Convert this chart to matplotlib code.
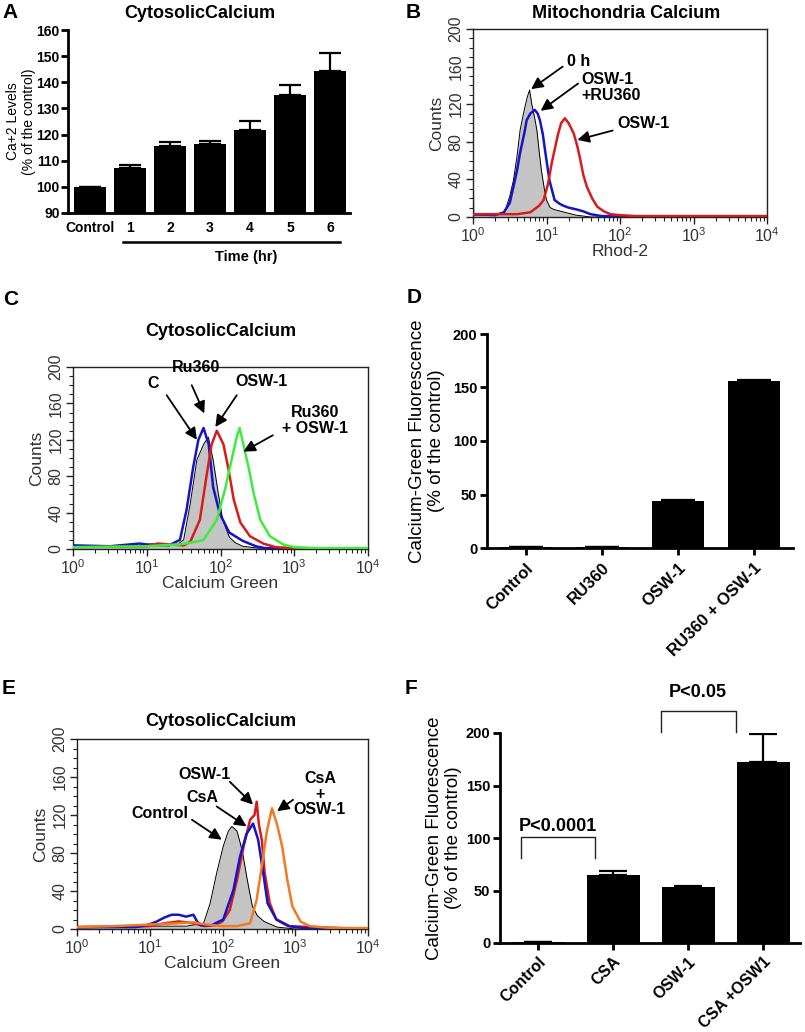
import numpy as np
import matplotlib
matplotlib.use('Agg')
import matplotlib.pyplot as plt
from matplotlib.ticker import LogLocator, MultipleLocator, NullFormatter

plt.rcParams['font.family'] = ['Liberation Sans', 'DejaVu Sans']

# ---- data ----
# A: cytosolic calcium over time
a_labels = ['Control', '1', '2', '3', '4', '5', '6']
a_vals = [100, 107.2, 115.7, 116.3, 121.8, 135.2, 144.5]
a_err = [0, 1.3, 1.4, 1.1, 3.5, 3.8, 6.6]

# B: mitochondria calcium (Rhod-2), log10 position / counts
b_gray_pos = [0, 0.005, 0.01, 0.3, 0.43, 0.5, 0.55, 0.6, 0.64, 0.7, 0.74, 0.77, 0.8, 0.84, 0.87, 0.9, 0.93, 0.97, 1.0, 1.05, 1.1, 1.2, 1.3, 1.4, 1.6, 4.0]
b_gray_cnt = [50, 50, 2, 2, 5, 22, 39, 65, 92, 115, 128, 135, 120, 105, 92, 70, 50, 30, 18, 10, 8, 6, 4, 2, 0, 0]
b_blue_pos = [0, 0.3, 0.42, 0.5, 0.55, 0.6, 0.64, 0.7, 0.73, 0.78, 0.84, 0.88, 0.91, 0.95, 0.98, 1.04, 1.11, 1.18, 1.23, 1.3, 1.41, 1.5, 1.6, 1.75, 4.0]
b_blue_cnt = [3, 2, 5, 15, 32, 50, 68, 90, 103, 110, 114, 110, 103, 88, 71, 39, 18, 14, 12, 10, 8, 6, 3, 1, 0]
b_red_pos = [0, 0.6, 0.78, 0.9, 0.96, 1.02, 1.07, 1.12, 1.16, 1.2, 1.25, 1.3, 1.37, 1.42, 1.46, 1.5, 1.55, 1.62, 1.69, 1.78, 1.87, 2.0, 2.2, 4.0]
b_red_cnt = [3, 3, 5, 12, 18, 35, 57, 75, 89, 100, 105, 100, 89, 75, 61, 45, 32, 20, 11, 6, 3, 2, 1, 1]

# C: cytosolic calcium (Calcium Green)
c_gray_pos = [0, 1.0, 1.4, 1.5, 1.59, 1.68, 1.77, 1.835, 1.9, 1.97, 2.03, 2.12, 2.2, 2.3, 2.5, 4.0]
c_gray_cnt = [3, 3, 4, 10, 50, 98, 115, 123, 98, 61, 32, 13, 7, 3, 1, 0]
c_blue_pos = [0, 0.5, 0.9, 1.0, 1.1, 1.3, 1.45, 1.54, 1.63, 1.7, 1.77, 1.84, 1.9, 1.99, 2.12, 2.3, 2.48, 2.6, 4.0]
c_blue_cnt = [4, 3, 6, 5, 5, 4, 10, 43, 90, 120, 133, 115, 68, 39, 18, 9, 3, 1, 0]
c_red_pos = [0, 1.0, 1.15, 1.3, 1.5, 1.59, 1.72, 1.81, 1.88, 1.95, 2.04, 2.11, 2.18, 2.27, 2.4, 2.58, 2.75, 3.0, 4.0]
c_red_cnt = [2, 3, 6, 5, 4, 8, 32, 80, 115, 130, 115, 87, 54, 29, 14, 6, 2, 1, 0]
c_green_pos = [0, 1.0, 1.2, 1.45, 1.6, 1.77, 1.95, 2.06, 2.15, 2.22, 2.26, 2.31, 2.38, 2.45, 2.54, 2.67, 2.85, 3.0, 3.3, 4.0]
c_green_cnt = [2, 3, 4, 5, 7, 10, 32, 65, 98, 123, 133, 115, 90, 61, 32, 14, 5, 2, 1, 1]

# D: Ru360 bars
d_labels = ['Control', 'RU360', 'OSW-1', 'RU360 + OSW-1']
d_vals = [1.2, 1.0, 43.6, 155.8]
d_err = [0, 0, 1.4, 1.2]

# E: CsA histograms
e_gray_pos = [0, 1.0, 1.5, 1.74, 1.83, 1.92, 2.01, 2.08, 2.13, 2.2, 2.27, 2.34, 2.41, 2.48, 2.57, 2.75, 3.0, 4.0]
e_gray_cnt = [1, 3, 3, 6, 27, 59, 87, 103, 108, 103, 83, 52, 24, 14, 8, 2, 0, 0]
e_blue_pos = [0, 0.8, 0.9, 1.0, 1.1, 1.2, 1.3, 1.4, 1.5, 1.6, 1.65, 1.7, 1.85, 2.01, 2.15, 2.24, 2.33, 2.42, 2.49, 2.56, 2.62, 2.74, 2.92, 3.1, 4.0]
e_blue_cnt = [2, 2, 3, 5, 8, 12, 15, 15, 13, 15, 8, 4, 4, 10, 41, 76, 100, 111, 94, 59, 27, 10, 3, 1, 0]
e_red_pos = [0, 1.0, 1.2, 1.4, 1.6, 1.75, 1.9, 2.0, 2.1, 2.2, 2.29, 2.38, 2.44, 2.47, 2.5, 2.54, 2.58, 2.65, 2.74, 2.9, 4.0]
e_red_cnt = [2, 3, 6, 8, 6, 3, 4, 8, 20, 52, 87, 115, 120, 134, 110, 94, 59, 27, 10, 3, 0]
e_orange_pos = [0, 0.5, 0.8, 1.1, 1.4, 1.6, 1.75, 2.0, 2.2, 2.38, 2.47, 2.54, 2.61, 2.68, 2.75, 2.82, 2.89, 2.96, 3.07, 3.2, 3.5, 4.0]
e_orange_cnt = [2, 3, 4, 5, 6, 7, 5, 3, 3, 6, 31, 66, 103, 127, 110, 87, 52, 24, 8, 3, 1, 1]

# F: CsA bars
f_labels = ['Control', 'CSA', 'OSW-1', 'CSA +OSW1']
f_vals = [1.3, 65.1, 53.3, 172.4]
f_err = [0, 3.8, 0.7, 27.0]

BLUE = '#1414c8'
RED = '#d81c1c'
GREEN = '#3cee3c'
ORANGE = '#f27a22'
GRAY = '#c4c4c4'

W, H = 805, 1032
fig = plt.figure(figsize=(W / 100, H / 100), dpi=100)


def box(l, t, r, b):
    return [l / W, 1 - b / H, (r - l) / W, (b - t) / H]


def ftext(x, y, s, **kw):
    fig.text(x / W, 1 - y / H, s, **kw)


def flow_axes(rect, xlabel, wpx, hpx):
    ax = fig.add_axes(rect)
    ax.set_xscale('log')
    ax.set_xlim(1, 1e4)
    ax.set_ylim(0, 200)
    for s in ax.spines.values():
        s.set_linewidth(1.0)
        s.set_color('#222222')
    ax.set_xticks([1, 10, 100, 1000, 10000])
    ax.set_xticklabels([r'$\mathregular{10^{%d}}$' % i for i in range(5)])
    ax.xaxis.set_minor_locator(LogLocator(base=10, subs=range(2, 10)))
    ax.xaxis.set_minor_formatter(NullFormatter())
    ax.set_yticks(range(0, 201, 40))
    ax.yaxis.set_minor_locator(MultipleLocator(10))
    ax.tick_params(which='major', length=5, width=1, color='#222222',
                   labelsize=11.5, labelcolor='#333333', pad=2)
    ax.tick_params(which='minor', length=3, width=0.8, color='#222222')
    plt.setp(ax.get_yticklabels(), rotation=90, va='center')
    ax.set_xlabel(xlabel, fontsize=12.5, color='#333333')
    ax.set_ylabel('Counts', fontsize=12.5, color='#333333')
    ax.xaxis.set_label_coords(0.5, -27 / hpx)
    ax.yaxis.set_label_coords(-29 / wpx, 0.5)
    return ax


def gray_hist(ax, pos, cnt):
    x = 10 ** np.array(pos)
    ax.fill_between(x, cnt, 0, color=GRAY, lw=0, zorder=1)
    ax.plot(x, cnt, color='k', lw=0.7, zorder=2)


def line_hist(ax, pos, cnt, color, z=3):
    ax.plot(10 ** np.array(pos), cnt, color=color, lw=1.8, zorder=z)


def arrow(ax, start, tip):
    ax.annotate('', xy=(10 ** tip[0], tip[1]), xytext=(10 ** start[0], start[1]),
                arrowprops=dict(arrowstyle='-|>,head_length=0.7,head_width=0.35',
                                color='k', lw=1.3, shrinkA=0, shrinkB=0),
                zorder=5, annotation_clip=False)


def lab(ax, pos, cnt, s, ha='center'):
    ax.text(10 ** pos, cnt, s, ha=ha, va='center', fontsize=11.5,
            fontweight='bold', linespacing=1.05, zorder=6, clip_on=False)


def bar_axes(rect):
    ax = fig.add_axes(rect)
    ax.spines[['top', 'right']].set_visible(False)
    ax.spines[['left', 'bottom']].set_linewidth(2)
    return ax


# ---- panel A ----
axA = bar_axes(box(68, 30, 350, 213))
xa = np.arange(len(a_vals))
axA.bar(xa, np.array(a_vals) - 90, bottom=90, width=0.8, color='k')
axA.errorbar(xa, a_vals, yerr=[np.zeros(len(a_err)), a_err], fmt='none',
             ecolor='k', elinewidth=1.6, capsize=8, capthick=1.6)
axA.set_ylim(90, 160)
axA.set_xlim(-0.55, 6.5)
axA.set_yticks(range(90, 161, 10))
axA.set_xticks(xa)
axA.set_xticklabels(a_labels)
axA.tick_params(axis='y', width=2, length=5, labelsize=10, pad=1)
axA.tick_params(axis='x', length=0, labelsize=10, pad=6)
plt.setp(axA.get_yticklabels() + axA.get_xticklabels(), fontweight='bold')
axA.set_ylabel('Ca+2 Levels\n(% of the control)', fontsize=10, linespacing=1.2)
axA.yaxis.set_label_coords(-32 / 282, 0.5)
axA.plot([0.83, 6.25], [-0.158, -0.158], color='k', lw=1.8,
         transform=axA.get_xaxis_transform(), clip_on=False)
axA.text(3.9, -0.24, 'Time (hr)', transform=axA.get_xaxis_transform(),
         ha='center', va='center', fontsize=10.5, fontweight='bold')

# ---- panel B ----
axB = flow_axes(box(473, 29, 767, 217), 'Rhod-2', 294, 188)
gray_hist(axB, b_gray_pos, b_gray_cnt)
line_hist(axB, b_blue_pos, b_blue_cnt, BLUE)
line_hist(axB, b_red_pos, b_red_cnt, RED)
arrow(axB, (1.22, 160), (0.79, 136))
lab(axB, 1.28, 165, '0 h', ha='left')
arrow(axB, (1.43, 142), (0.92, 113))
lab(axB, 1.48, 138, 'OSW-1\n+RU360', ha='left')
arrow(axB, (1.9, 92), (1.42, 82))
lab(axB, 1.96, 100, 'OSW-1', ha='left')

# ---- panel C ----
axC = flow_axes(box(73, 367, 368, 549), 'Calcium Green', 295, 182)
gray_hist(axC, c_gray_pos, c_gray_cnt)
line_hist(axC, c_blue_pos, c_blue_cnt, BLUE)
line_hist(axC, c_red_pos, c_red_cnt, RED)
line_hist(axC, c_green_pos, c_green_cnt, GREEN)
arrow(axC, (1.27, 169), (1.68, 120))
lab(axC, 1.08, 182, 'C')
arrow(axC, (1.61, 180), (1.78, 149))
lab(axC, 1.67, 200, 'Ru360')
arrow(axC, (2.22, 169), (1.93, 134))
lab(axC, 2.55, 184, 'OSW-1')
arrow(axC, (2.71, 125), (2.31, 107))
lab(axC, 3.28, 141, 'Ru360\n+ OSW-1')

# ---- panel D ----
axD = bar_axes(box(487, 334, 793, 548))
xd = np.arange(len(d_vals))
axD.bar(xd, d_vals, width=0.68, color='k')
axD.errorbar(xd, d_vals, yerr=[np.zeros(len(d_err)), d_err], fmt='none',
             ecolor='k', elinewidth=1.6, capsize=12, capthick=1.6)
axD.set_ylim(0, 200)
axD.set_xlim(-0.51, 3.51)
axD.set_yticks(range(0, 201, 50))
axD.set_xticks(xd)
axD.set_xticklabels(d_labels, rotation=45, ha='right', rotation_mode='anchor')
axD.tick_params(width=2, length=5, pad=2)
axD.tick_params(axis='y', labelsize=10.5)
axD.tick_params(axis='x', labelsize=12, pad=4)
plt.setp(axD.get_yticklabels() + axD.get_xticklabels(), fontweight='bold')
axD.set_ylabel('Calcium-Green Fluorescence\n(% of the control)', fontsize=13.5,
               linespacing=1.15)
axD.yaxis.set_label_coords(-42 / 306, 0.5)

# ---- panel E ----
axE = flow_axes(box(77, 739, 368, 929), 'Calcium Green', 291, 190)
gray_hist(axE, e_gray_pos, e_gray_cnt)
line_hist(axE, e_blue_pos, e_blue_cnt, BLUE, z=3)
line_hist(axE, e_red_pos, e_red_cnt, RED, z=2.9)
line_hist(axE, e_orange_pos, e_orange_cnt, ORANGE, z=3.1)
arrow(axE, (2.1, 155), (2.42, 131))
lab(axE, 1.75, 163, 'OSW-1')
arrow(axE, (1.92, 129), (2.33, 108))
lab(axE, 1.72, 138, 'CsA')
arrow(axE, (1.58, 115), (1.99, 94))
lab(axE, 1.14, 122, 'Control')
arrow(axE, (2.97, 136), (2.75, 124))
lab(axE, 3.34, 142, 'CsA\n+\nOSW-1')

# ---- panel F ----
axF = bar_axes(box(500, 733, 800, 943))
xf = np.arange(len(f_vals))
axF.bar(xf, f_vals, width=0.7, color='k')
axF.errorbar(xf, f_vals, yerr=[np.zeros(len(f_err)), f_err], fmt='none',
             ecolor='k', elinewidth=1.6, capsize=10, capthick=1.6)
axF.set_ylim(0, 200)
axF.set_xlim(-0.51, 3.49)
axF.set_yticks(range(0, 201, 50))
axF.set_xticks(xf)
axF.set_xticklabels(f_labels, rotation=45, ha='right', rotation_mode='anchor')
axF.tick_params(width=2, length=5, pad=2)
axF.tick_params(axis='y', labelsize=10.5)
axF.tick_params(axis='x', labelsize=11.5, pad=3)
plt.setp(axF.get_yticklabels() + axF.get_xticklabels(), fontweight='bold')
axF.set_ylabel('Calcium-Green Fluorescence\n(% of the control)', fontsize=13.5,
               linespacing=1.15)
axF.yaxis.set_label_coords(-38 / 300, 0.5)
axF.plot([-0.23, -0.23, 0.76, 0.76], [81, 101, 101, 81], color='#222222', lw=1.0,
         clip_on=False)
axF.text(0.26, 111, 'P<0.0001', ha='center', va='center', fontsize=13,
         fontweight='bold')
axF.plot([1.63, 1.63, 2.64, 2.64], [201, 221, 221, 201], color='#222222', lw=1.0,
         clip_on=False)
axF.text(2.13, 239, 'P<0.05', ha='center', va='center', fontsize=13,
         fontweight='bold', clip_on=False)

# ---- titles and panel letters ----
ftext(200, 13, 'CytosolicCalcium', ha='center', va='center', fontsize=13, fontweight='bold')
ftext(626, 13, 'Mitochondria Calcium', ha='center', va='center', fontsize=13, fontweight='bold')
ftext(221, 332, 'CytosolicCalcium', ha='center', va='center', fontsize=13, fontweight='bold')
ftext(221, 722, 'CytosolicCalcium', ha='center', va='center', fontsize=13, fontweight='bold')
for s, x, y in [('A', 2, 13), ('B', 406, 13), ('C', 3, 299), ('D', 407, 297),
                ('E', 2, 689), ('F', 405, 688)]:
    ftext(x, y, s, ha='left', va='center', fontsize=15, fontweight='bold')

fig.savefig('out.png', dpi=100)
